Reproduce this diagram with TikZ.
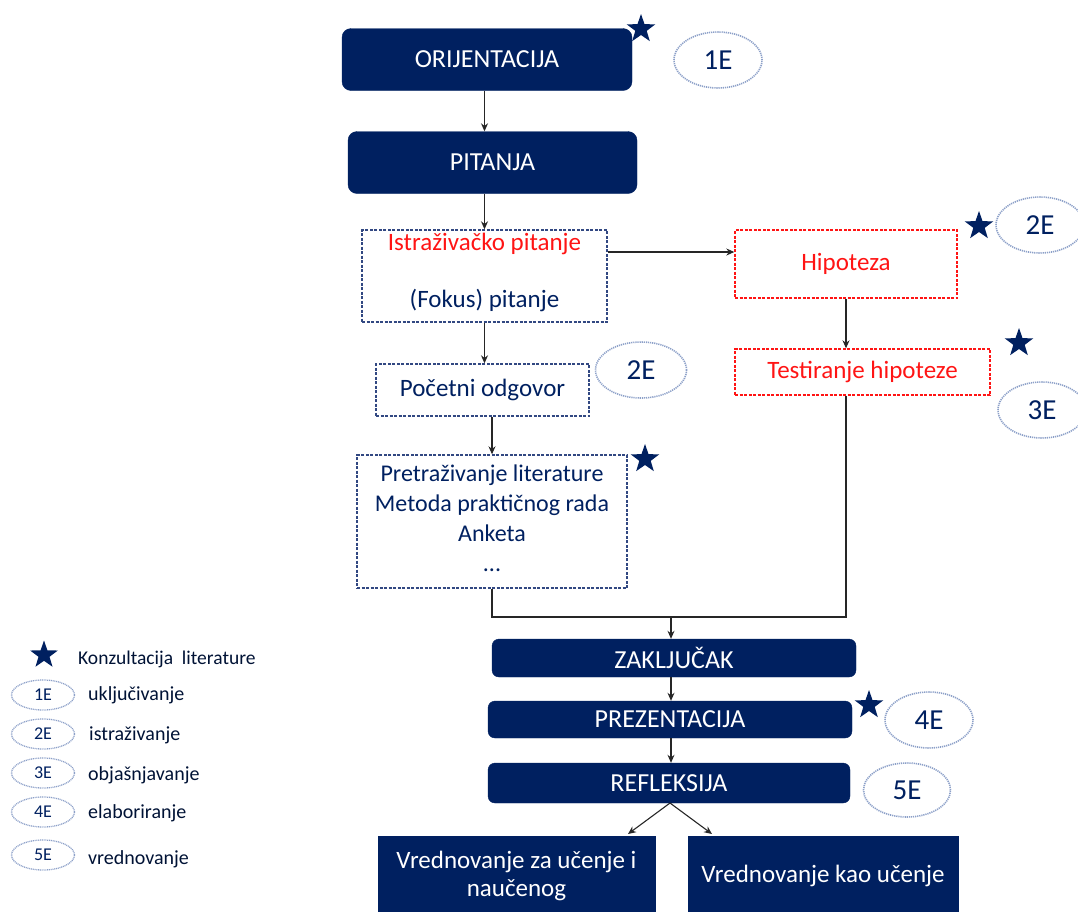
\documentclass[tikz,border=0pt]{standalone}
\usepackage{fontspec}
\setmainfont{Carlito}
\usetikzlibrary{shapes.geometric,arrows.meta,calc}
\definecolor{navy}{RGB}{0,32,96}
\definecolor{dotc}{RGB}{140,160,200}
\definecolor{dashnavy}{RGB}{50,72,130}
\definecolor{redt}{RGB}{255,20,20}
\begin{document}
\begin{tikzpicture}[x=1pt,y=-1pt,
  solidbox/.style={fill=navy,draw=navy,rounded corners=9pt,text=white,font=\fontsize{26}{30}\selectfont,inner sep=0pt},
  squarebox/.style={fill=navy,draw=navy,text=white,font=\fontsize{25}{28}\selectfont,inner sep=0pt,align=center},
  bluedash/.style={draw=dashnavy,line width=1.4pt,dash pattern=on 3pt off 1.5pt,text=navy,font=\fontsize{24}{30}\selectfont,inner sep=0pt,align=center},
  reddash/.style={draw=redt,line width=1.4pt,dash pattern=on 3pt off 1.5pt,text=redt,font=\fontsize{25}{28}\selectfont,inner sep=0pt},
  estar/.style={star,star points=5,star point ratio=2.5,fill=navy,draw=none,inner sep=0pt,minimum size=#1},
  estar/.default=30pt,
  eell/.style={ellipse,draw=dotc,line width=1.6pt,dash pattern=on 1.2pt off 0.9pt,text=navy,inner sep=0pt,font=\fontsize{29}{30}\selectfont},
  leg/.style={anchor=west,text=navy!55!black,font=\fontsize{20}{22}\selectfont,inner sep=0pt},
  legell/.style={ellipse,draw=dotc,line width=1.3pt,dash pattern=on 1pt off 0.8pt,text=navy,inner sep=0pt,minimum width=63pt,minimum height=30pt,font=\fontsize{18}{20}\selectfont},
  arr/.style={-{Stealth[length=8pt,width=7pt]},line width=1.1pt,draw=black!85},
  ln/.style={line width=1.1pt,draw=black!85}
]
\useasboundingbox (0,0) rectangle (1078,911);

% main column
\node[solidbox,minimum width=290pt,minimum height=62pt] (ori) at (487,59.5) {ORIJENTACIJA};
\node[solidbox,minimum width=289pt,minimum height=62pt] (pit) at (492.5,162.5) {PITANJA};
\node[bluedash,minimum width=245pt,minimum height=92pt] (ist) at (484.5,276) {};
\node[text=redt,font=\fontsize{25}{28}\selectfont,inner sep=0pt] (istt) at (484.5,244) {Istraživačko pitanje};
\node[text=navy,font=\fontsize{25}{28}\selectfont,inner sep=0pt] (fok) at (484.5,300) {(Fokus) pitanje};
\node[reddash,minimum width=222pt,minimum height=68pt] (hip) at (846,264) {Hipoteza};
\node[reddash,minimum width=255pt,minimum height=46pt] (tes) at (862.5,372) {Testiranje hipoteze};
\node[bluedash,minimum width=213pt,minimum height=52pt,font=\fontsize{25}{28}\selectfont] (poc) at (482.5,390) {Početni odgovor};
\node[bluedash,minimum width=270pt,minimum height=133pt] (pre) at (492,521.5) {};
\node[text=navy,font=\fontsize{24}{30}\selectfont,inner sep=0pt,align=center] (pret) at (492,518) {Pretraživanje literature\\Metoda praktičnog rada\\Anketa\\...};
\node[solidbox,minimum width=364pt,minimum height=38pt,rounded corners=7pt] (zak) at (674,658) {ZAKLJUČAK};
\node[solidbox,minimum width=364pt,minimum height=37pt,rounded corners=7pt] (prz) at (670,719.5) {PREZENTACIJA};
\node[solidbox,minimum width=362pt,minimum height=40pt,rounded corners=7pt] (ref) at (669,783) {REFLEKSIJA};
\node[squarebox,minimum width=277pt,minimum height=80pt] (vzu) at (516.5,876) {Vrednovanje za učenje i\\naučenog};
\node[squarebox,minimum width=270pt,minimum height=80pt] (vku) at (823,876) {Vrednovanje kao učenje};

% stars and ellipses
\node[estar] (s1) at (641,29) {};
\node[eell,minimum width=88pt,minimum height=56pt] (e1) at (718,60) {1E};
\node[estar] (s2) at (979,226) {};
\node[eell,minimum width=88pt,minimum height=56pt] (e2a) at (1040,225) {2E};
\node[estar] (s3) at (1019,343) {};
\node[eell,minimum width=88pt,minimum height=56pt] (e3) at (1042,410) {3E};
\node[eell,minimum width=91pt,minimum height=56pt] (e2b) at (641,370) {2E};
\node[estar] (s4) at (645,459) {};
\node[estar] (s5) at (869,705) {};
\node[eell,minimum width=88pt,minimum height=56pt] (e4) at (929,720) {4E};
\node[eell,minimum width=87pt,minimum height=54pt] (e5) at (907,790) {5E};

% connectors
\draw[arr] (ori.south -| ist.north) -- (ist.north |- pit.north);
\draw[arr] (pit.south -| ist.north) -- (ist.north);
\draw[arr] (ist.east |- 0,252) -- (hip.west |- 0,252);
\draw[arr] (hip.south) -- (hip.south |- tes.north);
\draw[arr] (ist.south) -- (ist.south |- poc.north);
\draw[arr] (pre.north |- poc.south) -- (pre.north);
\coordinate (j) at (671,617);
\draw[ln] (hip.south |- tes.south) |- (j);
\draw[ln] (pre.south) |- (j);
\draw[arr] (j) -- (j |- zak.north);
\draw[arr] (j |- zak.south) -- (j |- prz.north);
\draw[arr] (j |- prz.south) -- (j |- ref.north);
\coordinate (r) at (670,803);
\draw[arr] (r) -- (628,834);
\draw[arr] (r) -- (712,834);

% legend
\node[estar=29pt] (ls) at (44,655) {};
\node[leg,font=\fontsize{19.5}{22}\selectfont] (lst) at (78,659) {Konzultacija\ \ literature};
\node[legell] (l1) at (43,695) {1E};
\node[leg] (l1t) at (88,695) {uključivanje};
\node[legell] (l2) at (43,734) {2E};
\node[leg] (l2t) at (89,735) {istraživanje};
\node[legell] (l3) at (43,773) {3E};
\node[leg] (l3t) at (88,775) {objašnjavanje};
\node[legell] (l4) at (43,812) {4E};
\node[leg] (l4t) at (88,813) {elaboriranje};
\node[legell] (l5) at (43,855) {5E};
\node[leg] (l5t) at (88,859) {vrednovanje};
\end{tikzpicture}
\end{document}
